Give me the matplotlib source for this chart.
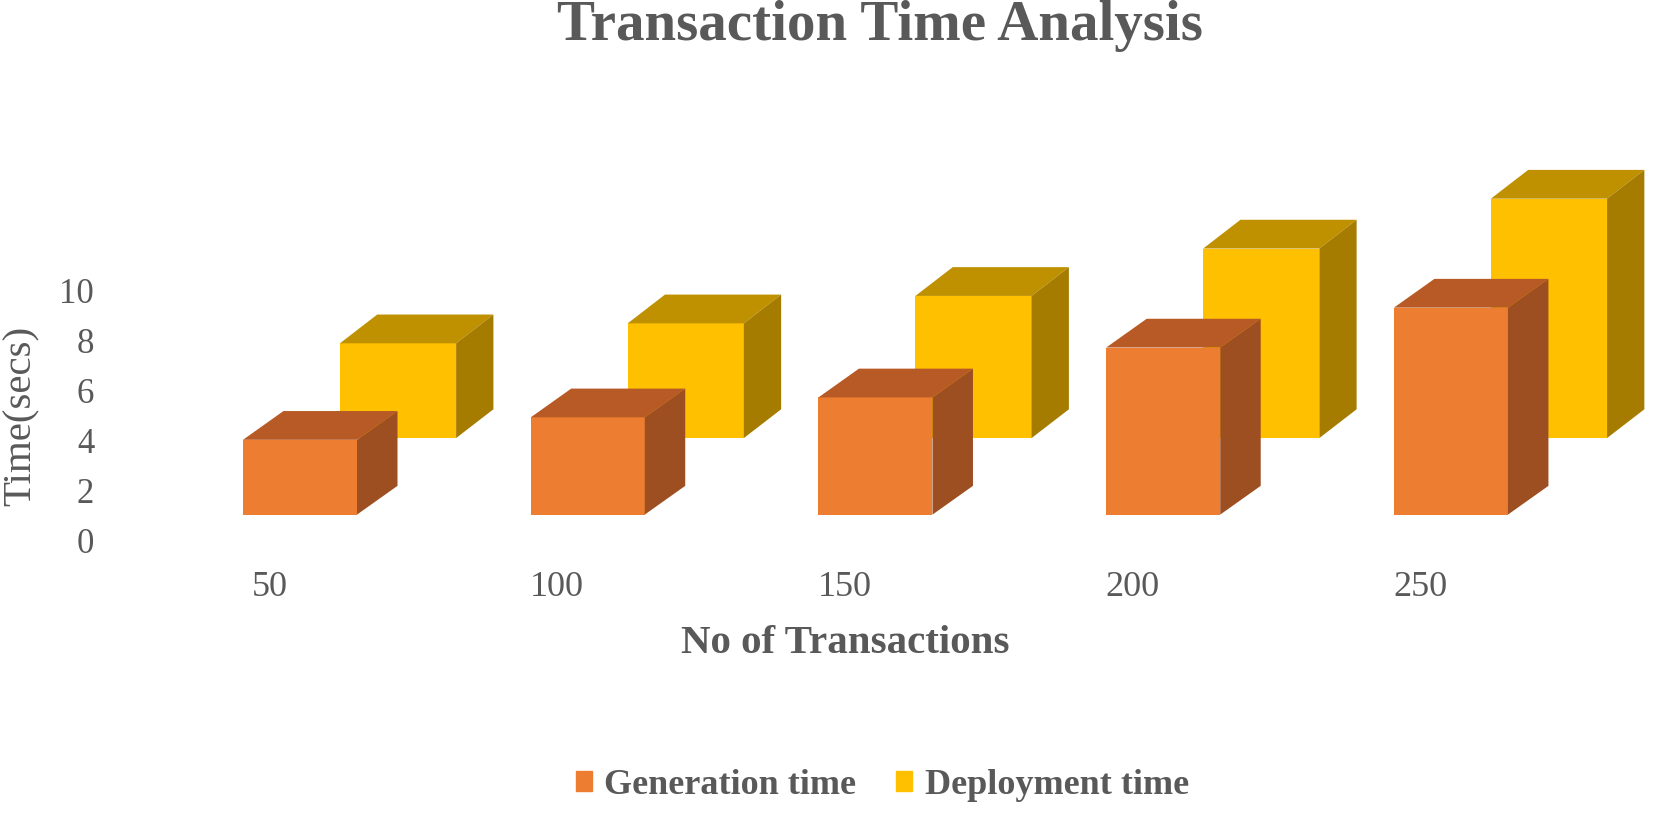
import numpy as np
import matplotlib
matplotlib.use("Agg")
import matplotlib.pyplot as plt
from matplotlib.patches import Polygon, Patch

plt.rcParams['font.family'] = ['Liberation Serif', 'DejaVu Serif']

transactions = ["50", "100", "150", "200", "250"]
generation = [3.0, 3.9, 4.7, 6.7, 8.3]
deployment = [3.8, 4.6, 5.7, 7.6, 9.6]
yticks = [0, 2, 4, 6, 8, 10]

W, H = 1671, 830
S = W / 1568  # layout numbers below were measured on a 1568 wide view
fig = plt.figure(figsize=(W / 100, H / 100), dpi=100)

# axes box, y unit is 23.4 and category step is 270 in the measured view
left, right, bottom, top = 190, 1560, 507, 150
ax = fig.add_axes([left * S / W, 1 - bottom * S / H, (right - left) * S / W, (bottom - top) * S / H])
ax.set_xlim((left - 253) / 270, (right - 253) / 270)
ax.set_ylim(0, (bottom - top) / 23.4)
ax.patch.set_alpha(0)
for s in ax.spines.values():
    s.set_visible(False)


def box(x0, width, floor, height, depth_x, depth_y, front, top_c, side):
    # fake 3d bar: front face, lid and right side
    x1 = x0 + width
    y1 = floor + height
    ax.add_patch(Polygon([(x0, floor), (x1, floor), (x1, y1), (x0, y1)], color=front, lw=0, zorder=3))
    ax.add_patch(Polygon([(x0, y1), (x1, y1), (x1 + depth_x, y1 + depth_y), (x0 + depth_x, y1 + depth_y)],
                         color=top_c, lw=0, zorder=3))
    ax.add_patch(Polygon([(x1, floor), (x1 + depth_x, floor + depth_y), (x1 + depth_x, y1 + depth_y), (x1, y1)],
                         color=side, lw=0, zorder=3))


for i in range(len(transactions)):
    box(i + 66 / 270, 109 / 270, 4.1, deployment[i], 35 / 270, 27 / 23.4, "#FFC000", "#BF9000", "#A67C00")
for i in range(len(transactions)):
    box(i - 25 / 270, 107 / 270, 1.03, generation[i], 38 / 270, 27 / 23.4, "#ED7D31", "#B85A25", "#9E4F22")

ax.set_xticks(np.arange(len(transactions)))
ax.set_xticklabels(transactions, fontsize=26, color="#595959")
ax.set_yticks(yticks)
ax.set_yticklabels([str(v) for v in yticks], fontsize=25, color="#595959")
ax.tick_params(axis="x", length=0, pad=22)
ax.tick_params(axis="y", length=0, pad=78)

fig.text(826 * S / W, 1 - 40 / H, "Transaction Time Analysis", fontsize=41, fontweight="bold",
         color="#595959", ha="center", va="baseline")
fig.text(793 * S / W, 1 - 604 * S / H, "No of Transactions", fontsize=29.5, fontweight="bold",
         color="#595959", ha="center", va="center")
fig.text(20 * S / W, 1 - 390 * S / H, "Time(secs)", fontsize=29.5, rotation=90,
         color="#595959", ha="center", va="center")

handles = [Patch(color="#ED7D31"), Patch(color="#FFC000")]
fig.legend(handles, ["Generation time", "Deployment time"], loc="center", ncol=2,
           bbox_to_anchor=(828 * S / W, 1 - 737 * S / H), frameon=False, handlelength=0.45, handleheight=0.45,
           handletextpad=0.35, columnspacing=1.1,
           prop={"size": 26, "weight": "bold"}, labelcolor="#595959")

fig.savefig("out.png", dpi=100)
